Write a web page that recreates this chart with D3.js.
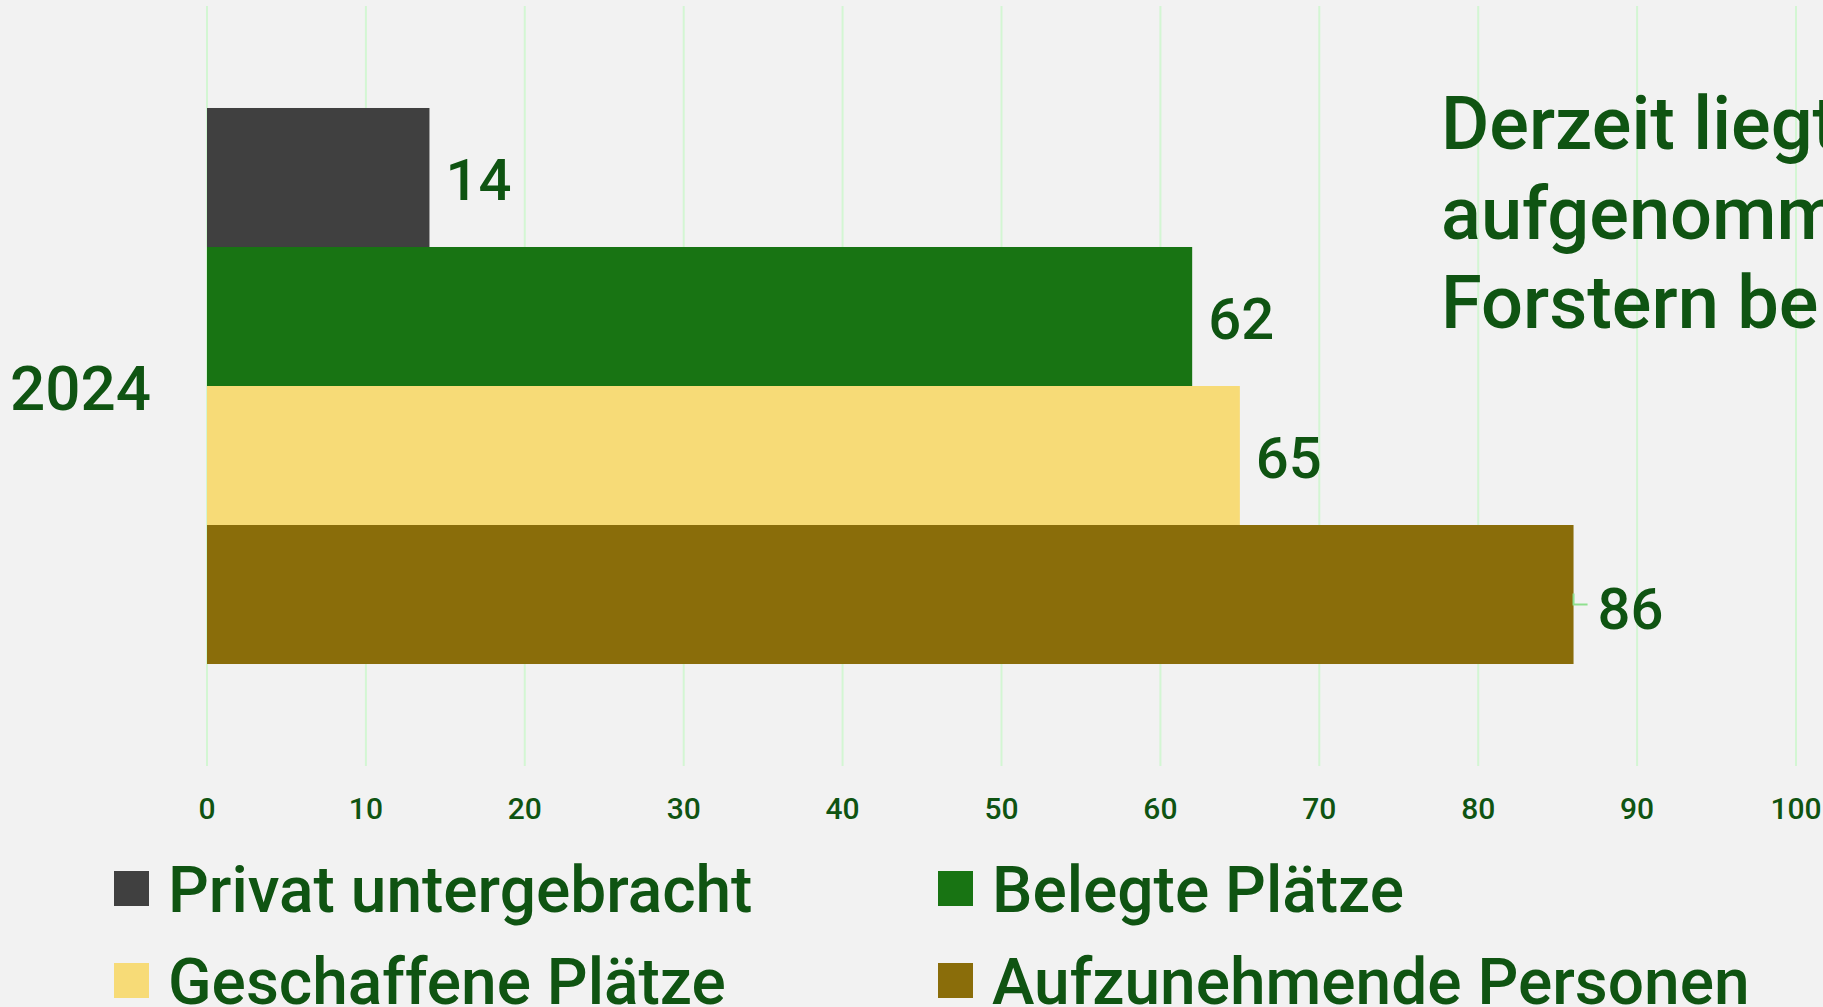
<!DOCTYPE html>
<html>
<head>
<meta charset="utf-8">
<script src="https://cdn.jsdelivr.net/npm/d3@7"></script>
<style>
  html, body { margin: 0; padding: 0; background: #f2f2f2; overflow: hidden; }
  svg { display: block; font-family: Roboto, "Noto Sans", sans-serif; }
</style>
</head>
<body>
<div id="chart"></div>
<script>
// data
var years = ["2024"];
var series = ["Privat untergebracht", "Belegte Plätze", "Geschaffene Plätze", "Aufzunehmende Personen"];
var values2024 = [14, 62, 65, 86];
var colors = ["#404040", "#187413", "#f7db77", "#8a6d0a"];
var xTicks = [0, 10, 20, 30, 40, 50, 60, 70, 80, 90, 100];
var note = ["Derzeit liegt die Zahl der", "aufgenommenen Geflüchteten in", "Forstern bei 86 Personen."];

var textColor = "#0f5412";
var width = 1823, height = 1007;

var svg = d3.select("#chart")
	.append("svg")
	.attr("width", width)
	.attr("height", height);

svg.append("rect")
	.attr("width", width)
	.attr("height", height)
	.attr("fill", "#f2f2f2");

var x = d3.scaleLinear().domain([0, 100]).range([207, 1796]);
var y0 = d3.scaleBand().domain(years).range([6, 766]).paddingInner(0.155).paddingOuter(0.155);
var y1 = d3.scaleBand().domain(series).range([0, y0.bandwidth()]);

// gridlines
svg.append("g").selectAll("line")
	.data(xTicks)
	.enter().append("line")
	.attr("x1", function(d) { return x(d); })
	.attr("x2", function(d) { return x(d); })
	.attr("y1", 6)
	.attr("y2", 766)
	.attr("stroke", "#d3f6d3")
	.attr("stroke-width", 2);

// tick labels
svg.append("g").selectAll("text")
	.data(xTicks)
	.enter().append("text")
	.attr("x", function(d) { return x(d); })
	.attr("y", 819)
	.attr("text-anchor", "middle")
	.attr("font-size", 30)
	.attr("font-weight", 500)
	.attr("fill", textColor)
	.text(function(d) { return d; });

// bars
var rows = series.map(function(s, i) { return { key: s, value: values2024[i], color: colors[i] }; });
var group = svg.append("g").attr("transform", "translate(0," + y0("2024") + ")");

group.selectAll("rect")
	.data(rows)
	.enter().append("rect")
	.attr("x", x(0))
	.attr("y", function(d) { return y1(d.key); })
	.attr("width", function(d) { return x(d.value) - x(0); })
	.attr("height", y1.bandwidth())
	.attr("fill", function(d) { return d.color; });

// leader line for the last label
var last = rows[rows.length - 1];
var ly = y1(last.key) + y1.bandwidth() / 2;
group.append("path")
	.attr("d", "M" + x(last.value) + "," + (ly - 1) + "V" + (ly + 10) + "H" + (x(last.value) + 14))
	.attr("fill", "none")
	.attr("stroke", "#8fe08f")
	.attr("stroke-width", 2);

group.selectAll("text.val")
	.data(rows)
	.enter().append("text")
	.attr("class", "val")
	.attr("x", function(d, i) { return x(d.value) + (i == rows.length - 1 ? 24 : 16); })
	.attr("y", function(d, i) { return y1(d.key) + y1.bandwidth() / 2 + (i == rows.length - 1 ? 35 : 23); })
	.attr("font-size", 58)
	.attr("font-weight", 500)
	.attr("fill", textColor)
	.text(function(d) { return d.value; });

// category label
svg.append("g").selectAll("text")
	.data(years)
	.enter().append("text")
	.attr("x", 10)
	.attr("y", function(d) { return y0(d) + y0.bandwidth() / 2 + 24; })
	.attr("font-size", 62)
	.attr("font-weight", 500)
	.attr("fill", textColor)
	.text(function(d) { return d; });

// annotation
svg.append("g").selectAll("text")
	.data(note)
	.enter().append("text")
	.attr("x", 1441)
	.attr("y", function(d, i) { return 149 + i * 89.5; })
	.attr("font-size", 74)
	.attr("font-weight", 500)
	.attr("fill", textColor)
	.text(function(d) { return d; });

// legend
var legend = svg.append("g").selectAll("g")
	.data(series)
	.enter().append("g")
	.attr("transform", function(d, i) {
		return "translate(" + (i % 2 == 0 ? 114 : 938) + "," + (871 + Math.floor(i / 2) * 92) + ")";
	});

legend.append("rect")
	.attr("width", 35)
	.attr("height", 35)
	.attr("fill", function(d, i) { return colors[i]; });

legend.append("text")
	.attr("x", 54)
	.attr("y", 41)
	.attr("font-size", 64)
	.attr("font-weight", 500)
	.attr("fill", textColor)
	.text(function(d) { return d; });
</script>
</body>
</html>
